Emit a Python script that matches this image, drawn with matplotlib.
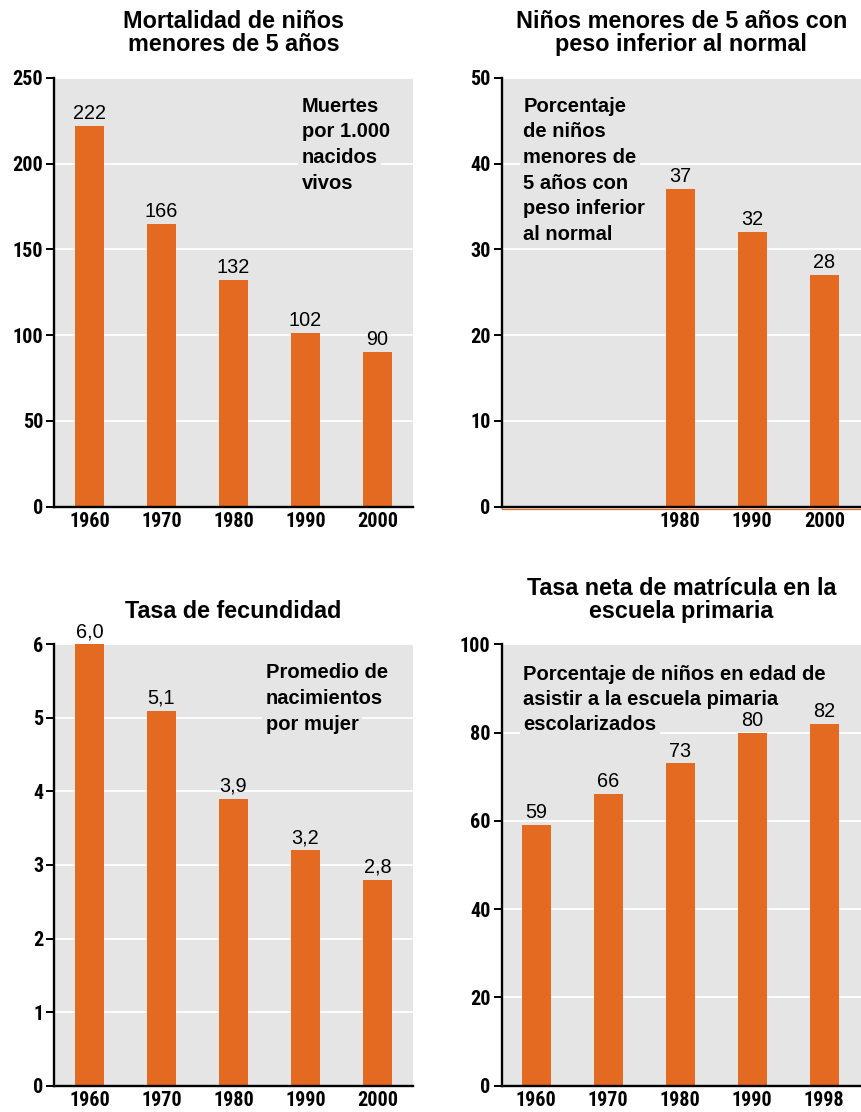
import os
import matplotlib
matplotlib.use('Agg')
import matplotlib.pyplot as plt
from matplotlib import font_manager as fm
from matplotlib.font_manager import FontProperties
from matplotlib.transforms import offset_copy

# ---------------- data ----------------
mort_years = ['1960', '1970', '1980', '1990', '2000']
mort_values = [222, 165, 132, 101, 90]
mort_labels = ['222', '166', '132', '102', '90']
mort_yticks = [0, 50, 100, 150, 200, 250]

peso_years = ['1980', '1990', '2000']
peso_values = [37, 32, 27]
peso_labels = ['37', '32', '28']
peso_yticks = [0, 10, 20, 30, 40, 50]

fec_years = ['1960', '1970', '1980', '1990', '2000']
fec_values = [6.0, 5.1, 3.9, 3.2, 2.8]
fec_labels = ['6,0', '5,1', '3,9', '3,2', '2,8']
fec_yticks = [0, 1, 2, 3, 4, 5, 6]

mat_years = ['1960', '1970', '1980', '1990', '1998']
mat_values = [59, 66, 73, 80, 82]
mat_labels = ['59', '66', '73', '80', '82']
mat_yticks = [0, 20, 40, 60, 80, 100]

titles = ['Mortalidad de niños\nmenores de 5 años',
          'Niños menores de 5 años con\npeso inferior al normal',
          'Tasa de fecundidad',
          'Tasa neta de matrícula en la\nescuela primaria']
notes = [['Muertes', 'por 1.000', 'nacidos', 'vivos'],
         ['Porcentaje', 'de niños', 'menores de', '5 años con', 'peso inferior', 'al normal'],
         ['Promedio de', 'nacimientos', 'por mujer'],
         ['Porcentaje de niños en edad de', 'asistir a la escuela pimaria', 'escolarizados']]

# ---------------- style ----------------
ORANGE = '#E36A20'
GRAY = '#E5E5E5'

files = {os.path.basename(f.fname): f.fname for f in fm.fontManager.ttflist}
cond_candidates = [('LiberationSansNarrow-Bold.ttf', 14.5),
                   ('RobotoCondensed-Bold.ttf', 14.5),
                   ('Roboto_Condensed-Bold.ttf', 14.5),
                   ('RobotoCondensed-Black.ttf', 14.5),
                   ('DejaVuSansCondensed-Bold.ttf', 13.0)]
tickfp = None
for name, size in cond_candidates:
    if name in files:
        tickfp = FontProperties(fname=files[name], size=size)
        break
if tickfp is None:
    tickfp = FontProperties(family='DejaVu Sans', weight='bold', size=12)

titlefp = FontProperties(family='Liberation Sans', weight='bold', size=16.8)
notefp = FontProperties(family='Liberation Sans', weight='bold', size=14.5)
valfp = FontProperties(family='Liberation Sans', weight='normal', size=14.3)

fig = plt.figure(figsize=(8.61, 11.12), dpi=100)
W, H = 861.0, 1112.0


def px_axes(left, top, right, bottom):
    return fig.add_axes([left / W, 1 - bottom / H, (right - left) / W, (bottom - top) / H])


ax1 = px_axes(54.3, 77.7, 412.7, 506.7)
ax2 = px_axes(501.7, 77.7, 861.0, 506.7)
ax3 = px_axes(54.3, 644.3, 412.7, 1085.7)
ax4 = px_axes(501.7, 644.3, 861.0, 1085.7)


def panel(ax, years, values, labels, yticks, title, note, note_xy, note_step, xlim):
    n_slots = 5
    first = n_slots - len(years)
    x = list(range(first, n_slots))
    ax.set_facecolor(GRAY)
    ax.bar(x, values, width=0.40, color=ORANGE, zorder=3)
    ax.set_xlim(*xlim)
    ax.set_ylim(0, yticks[-1])
    ax.set_yticks(yticks)
    ax.set_yticklabels([str(t) for t in yticks], fontproperties=tickfp)
    ax.set_xticks(x)
    ax.set_xticklabels(years, fontproperties=tickfp)
    ax.yaxis.grid(True, color='white', lw=1.3)
    ax.set_axisbelow(True)
    for s in ['top', 'right']:
        ax.spines[s].set_visible(False)
    for s in ['left', 'bottom']:
        ax.spines[s].set_color('black')
        ax.spines[s].set_linewidth(1.7)
        ax.spines[s].set_zorder(5)
    ax.tick_params(axis='y', length=6, width=1.4, color='black', pad=2)
    ax.tick_params(axis='x', length=0, pad=4)
    for xi, v, lab in zip(x, values, labels):
        ax.annotate(lab, (xi, v), xytext=(0, 5), textcoords='offset points',
                    ha='center', va='baseline', fontproperties=valfp, zorder=6)
    ax.set_title(title, fontproperties=titlefp, pad=19, linespacing=1.0)
    for i, line in enumerate(note):
        tr = offset_copy(ax.transAxes, fig=fig, x=0, y=-i * note_step, units='points')
        ax.text(note_xy[0], note_xy[1], line, transform=tr, ha='left', va='baseline',
                fontproperties=notefp, zorder=2,
                bbox=dict(facecolor=GRAY, edgecolor='none', pad=2.5))


panel(ax1, mort_years, mort_values, mort_labels, mort_yticks, titles[0], notes[0],
      (0.690, 0.9207), 18.5, (-0.49, 4.49))
panel(ax2, peso_years, peso_values, peso_labels, peso_yticks, titles[1], notes[1],
      (0.060, 0.9207), 18.5, (-0.48, 4.51))
panel(ax3, fec_years, fec_values, fec_labels, fec_yticks, titles[2], notes[2],
      (0.590, 0.923), 18.7, (-0.49, 4.49))
panel(ax4, mat_years, mat_values, mat_labels, mat_yticks, titles[3], notes[3],
      (0.060, 0.919), 18.0, (-0.48, 4.51))

# thin orange line just under the baseline of the second panel
tr = offset_copy(ax2.transAxes, fig=fig, x=0, y=-1.6, units='points')
ax2.plot([0, 1], [0, 0], color=ORANGE, lw=0.9, transform=tr, clip_on=False, zorder=4)

fig.savefig('out.png', dpi=100)
